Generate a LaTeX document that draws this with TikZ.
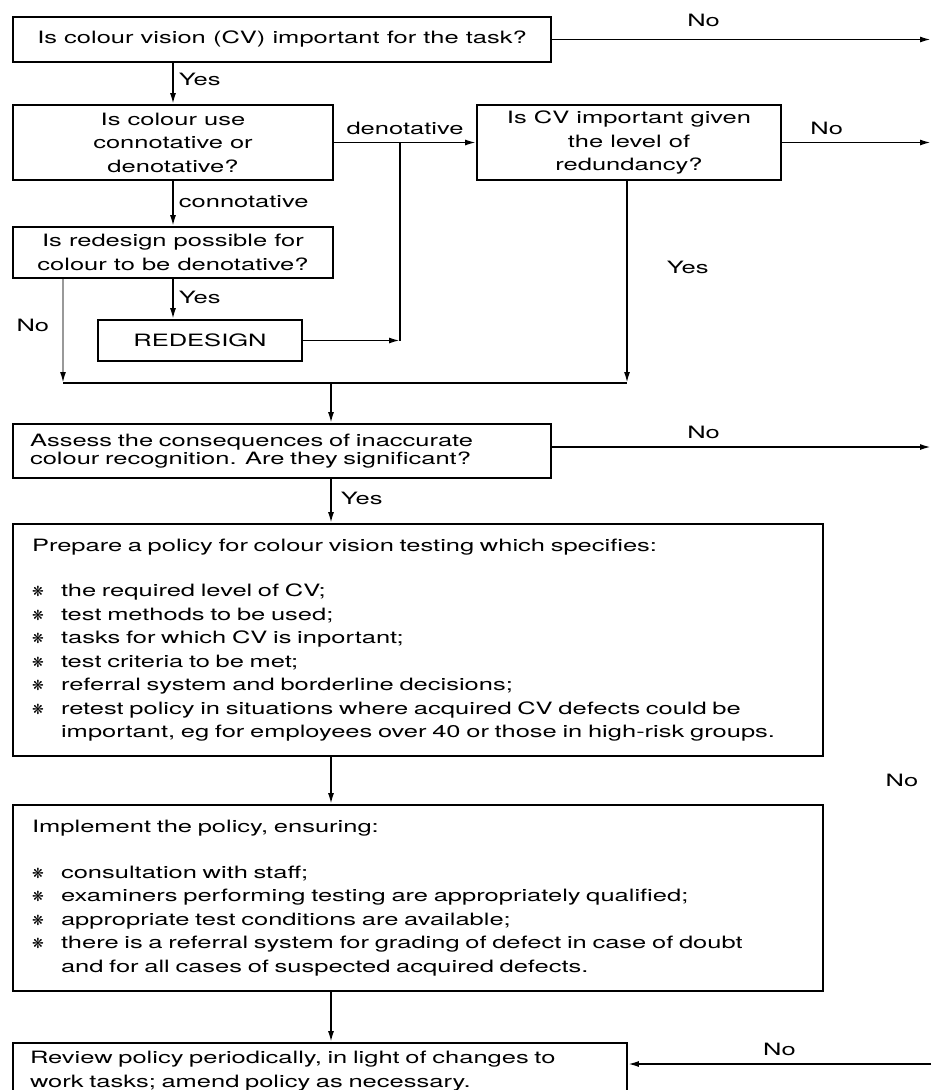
\documentclass[tikz,border=0pt]{standalone}
\usepackage{fontspec}
\setmainfont{TeX Gyre Heros}[FakeStretch=1.5]
\newfontfamily\symfont{DejaVu Sans}
\usetikzlibrary{arrows.meta,positioning,calc}
\newcommand{\qfont}{\fontsize{17}{23.5}\selectfont}
\newcommand{\bul}{\makebox[29pt][l]{\symfont\fontsize{14}{14}\selectfont ❋}}
\tikzstyle{l2}=[line width=1.8pt]
\tikzstyle{box}=[draw=black, l2, inner sep=0pt, font=\qfont, align=center]
\tikzstyle{textbox}=[box, align=left, inner xsep=19pt]
\tikzstyle{arr}=[l2, -{Latex[length=11pt,width=6pt,color=black]}]
\tikzstyle{lbl}=[font=\qfont, inner sep=1pt]

\begin{document}
\begin{tikzpicture}[x=1pt, y=-1pt]

    \clip (0,0) rectangle (933,1090);
    \fill[white] (0,0) rectangle (933,1090);

    % questions
    \node[box, minimum width=538pt, minimum height=45pt] (q1) at (282,39.5) {Is colour vision (CV) important for the task?};
    \node[box, minimum width=320pt, minimum height=75pt] (q2) at (173,142.5) {Is colour use\\connotative or\\denotative?};
    \node[box, minimum width=304pt, minimum height=75pt] (q3) at (629,142.5) {Is CV important given\\the level of\\redundancy?};
    \node[box, minimum width=320pt, minimum height=51pt] (q4) at (173,252.5) {Is redesign possible for\\colour to be denotative?};
    \node[box, minimum width=204pt, minimum height=41pt] (rd) at (200,340.5) {REDESIGN};
    \node[textbox, text width=504pt, minimum height=54pt, inner xsep=17pt,
          font=\fontsize{17}{18}\selectfont] (q5) at (282,451)
        {Assess the consequences of inaccurate\\colour recognition. Are they significant?};

    % policy boxes
    \node[textbox, text width=772pt, minimum height=232pt] (pol) at (418,640)
        {Prepare a policy for colour vision testing which specifies:\\[22pt]
         \bul the required level of CV;\\
         \bul test methods to be used;\\
         \bul tasks for which CV is inportant;\\
         \bul test criteria to be met;\\
         \bul referral system and borderline decisions;\\
         \bul retest policy in situations where acquired CV defects could be\\
         \hspace*{29pt}important, eg for employees over 40 or those in high-risk groups.};
    \node[textbox, text width=772pt, minimum height=186pt] (imp) at (418,898)
        {Implement the policy, ensuring:\\[22pt]
         \bul consultation with staff;\\
         \bul examiners performing testing are appropriately qualified;\\
         \bul appropriate test conditions are available;\\
         \bul there is a referral system for grading of defect in case of doubt\\
         \hspace*{29pt}and for all cases of suspected acquired defects.};
    \node[textbox, text width=580pt, minimum height=56pt, inner xsep=17pt] (rev) at (320,1071)
        {Review policy periodically, in light of changes to\\work tasks; amend policy as necessary.};

    % free ends and junctions
    \coordinate (o1) at (931,39.5);
    \coordinate (o3) at (931,142.5);
    \coordinate (o5) at (931,447);
    \coordinate (o8) at (931,1064);
    \coordinate (jd) at (400,142.5);
    \coordinate (ml) at (63,383);
    \coordinate (mc) at (331,383);
    \coordinate (mr) at (627,383);

    \draw[arr] (q1.east) -- (o1) node[lbl, pos=0.4, above=11pt] {No};
    \draw[arr] (q1.south -| q2) -- (q2.north) node[lbl, pos=0.4, right=4pt] {Yes};
    \draw[arr] (q2.east) -- (q3.west) node[lbl, pos=0.5, above=6pt] {denotative};
    \draw[arr] (q3.east) -- (o3) node[lbl, pos=0.3, above=6pt] {No};
    \draw[arr] (q2.south) -- (q4.north) node[lbl, pos=0.45, right=4pt] {connotative};
    \draw[arr] (q4.south) -- (q4.south |- rd.north) node[lbl, pos=0.45, right=4pt] {Yes};
    \draw[arr] (rd.east) -- (jd |- rd.east);
    \draw[l2] (jd |- rd.east) -- (jd);

    \draw[arr, draw=black!40] (q4.south -| ml) -- (ml) node[lbl, pos=0.45, left=12pt] {No};
    \draw[arr] (q3.south -| mr) -- (mr) node[lbl, pos=0.43, right=38pt] {Yes};
    \draw[l2] (ml) -- (mr);
    \draw[arr] (mc) -- (mc |- q5.north);

    \draw[arr] (q5.east |- o5) -- (o5) node[lbl, pos=0.4, above=6pt] {No};
    \draw[arr] (q5.south -| mc) -- (pol.north -| mc) node[lbl, pos=0.45, right=8pt] {Yes};
    \draw[arr] (pol.south -| mc) -- (imp.north -| mc) node[lbl, pos=0.5, xshift=571pt] {No};
    \draw[arr] (imp.south -| mc) -- (rev.north -| mc);
    \draw[arr] (o8) -- (rev.east |- o8) node[lbl, pos=0.5, above=6pt] {No};

\end{tikzpicture}
\end{document}
